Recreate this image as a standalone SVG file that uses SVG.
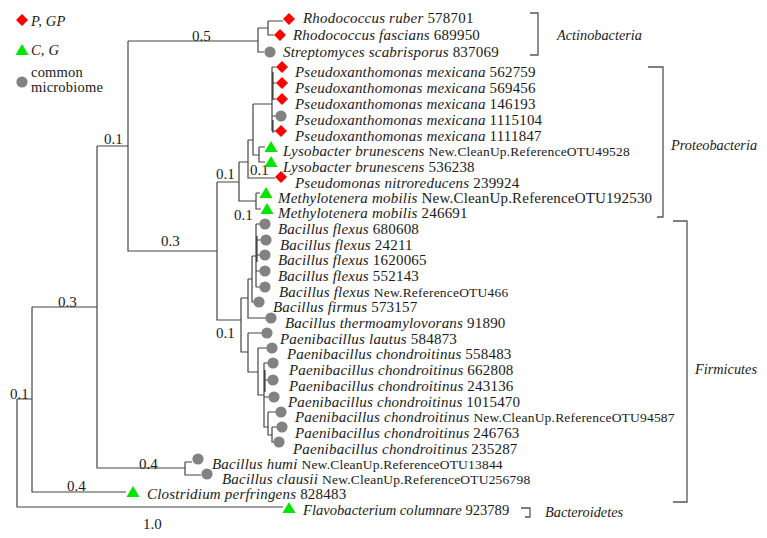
<svg xmlns="http://www.w3.org/2000/svg" xmlns:xlink="http://www.w3.org/1999/xlink" width="767" height="538" viewBox="0 0 767 538">
<defs>
<style>
.t{font-family:"Liberation Serif",serif;font-size:15px;letter-spacing:0.2px;fill:#1a1a1a}
.g{font-family:"Liberation Serif",serif;font-size:14.5px;letter-spacing:0.2px;fill:#1a1a1a}
.f{font-family:"Liberation Serif",serif;font-size:14.6px;fill:#1a1a1a}
.c{font-family:"Liberation Serif",serif;font-size:14.3px;font-style:italic;fill:#1a1a1a}
.i{font-style:italic}
.s{font-size:13.5px}
.b{font-family:"Liberation Serif",serif;font-size:15px;fill:#1a1a1a}
.ln{fill:none;stroke:#444;stroke-width:1.2}
.br{fill:none;stroke:#555;stroke-width:1.3}
</style>
<polygon id="dia" points="0,-6 6,0 0,6 -6,0" fill="#ff0000"/>
<polygon id="tri" points="0,-6 6.5,5 -6.5,5" fill="#00e600"/>
<circle id="cir" r="5.6" fill="#828282"/>
</defs>
<rect width="767" height="538" fill="#ffffff"/>

<g id="legend">
<use xlink:href="#dia" x="22" y="20"/>
<text class="g i" x="31" y="26">P, GP</text>
<use xlink:href="#tri" x="22" y="50"/>
<text class="g i" x="31" y="55">C, G</text>
<use xlink:href="#cir" x="22" y="82"/>
<text class="g" x="31" y="77">common</text>
<text class="g" x="31" y="92">microbiome</text>
</g>

<g id="connectors" class="ln">
<path d="M17,399V507H283M17,399H32"/>
<path d="M32,307V492H126M32,307H97"/>
<path d="M97,146V468H185M97,146H128"/>
<path d="M185,462V475H201M185,462H192"/>
<path d="M128,41V251H217M128,41H258"/>
<path d="M258,28V52H264M258,28H268"/>
<path d="M268,21V35H274M268,21H283"/>
<path d="M217,182V320H241M217,182H239"/>
<path d="M239,162V201H256M239,162H248"/>
<path d="M256,193V209H261M256,193H260"/>
<path d="M248,140V178H275M248,140H253"/>
<path d="M253,104V155H259M253,104H272"/>
<path d="M259,147V162H265M259,147H265"/>
<path d="M272,67V131M272,67H276M272,83H276M272,99H276M272,116H276M272,131H276M273,72V100M273,120V133"/>
<path d="M241,298V352H248M241,298H248"/>
<path d="M248,279V318H266M248,279H252"/>
<path d="M252,256V302H254M252,256H256"/>
<path d="M256,224V287M256,224H260M256,240H261M256,255H260M256,271H260M256,287H260M257,236V262"/>
<path d="M248,333V372H258M248,333H262"/>
<path d="M258,348V395H264M258,348H267"/>
<path d="M264,363V427H268M264,363H268M264,380H268M264,397H269M265,370V392"/>
<path d="M268,412V435H272M268,412H276"/>
<path d="M272,427V442H274M272,427H277"/>
</g>

<g id="branch-labels">
<text class="b" x="192" y="41">0.5</text>
<text class="b" x="104" y="144">0.1</text>
<text class="b" x="161" y="246">0.3</text>
<text class="b" x="58" y="307">0.3</text>
<text class="b" x="10" y="399">0.1</text>
<text class="b" x="139" y="469">0.4</text>
<text class="b" x="67" y="491">0.4</text>
<text class="b" x="143" y="529">1.0</text>
<text class="b" x="216" y="338">0.1</text>
<text class="b" x="234" y="220">0.1</text>
<text class="b" x="216" y="179">0.1</text>
<text class="b" x="250" y="175">0.1</text>
</g>

<g id="leaf-ruber"><use xlink:href="#dia" x="289" y="19"/><text class="t" x="303" y="23"><tspan class="i">Rhodococcus ruber</tspan> 578701</text></g>
<g id="leaf-fascians"><use xlink:href="#dia" x="280" y="35"/><text class="t" x="293" y="40"><tspan class="i">Rhodococcus fascians</tspan> 689950</text></g>
<g id="leaf-strepto"><use xlink:href="#cir" x="270" y="52"/><text class="t" x="283" y="57"><tspan class="i">Streptomyces scabrisporus</tspan> 837069</text></g>
<g id="leaf-pm1"><use xlink:href="#dia" x="282" y="67"/><text class="t" x="295" y="77"><tspan class="i">Pseudoxanthomonas mexicana</tspan> 562759</text></g>
<g id="leaf-pm2"><use xlink:href="#dia" x="282" y="83"/><text class="t" x="295" y="93"><tspan class="i">Pseudoxanthomonas mexicana</tspan> 569456</text></g>
<g id="leaf-pm3"><use xlink:href="#dia" x="282" y="99"/><text class="t" x="295" y="109"><tspan class="i">Pseudoxanthomonas mexicana</tspan> 146193</text></g>
<g id="leaf-pm4"><use xlink:href="#cir" x="281" y="116"/><text class="t" x="295" y="125"><tspan class="i">Pseudoxanthomonas mexicana</tspan> 1115104</text></g>
<g id="leaf-pm5"><use xlink:href="#dia" x="281" y="131"/><text class="t" x="295" y="141"><tspan class="i">Pseudoxanthomonas mexicana</tspan> 1111847</text></g>
<g id="leaf-lb1"><use xlink:href="#tri" x="271" y="147"/><text class="t" x="283" y="156"><tspan class="i">Lysobacter brunescens</tspan> <tspan class="s">New.CleanUp.ReferenceOTU49528</tspan></text></g>
<g id="leaf-lb2"><use xlink:href="#tri" x="271" y="162"/><text class="t" x="283" y="172"><tspan class="i">Lysobacter brunescens</tspan> 536238</text></g>
<g id="leaf-pn"><use xlink:href="#dia" x="281" y="177"/><text class="t" x="295" y="188"><tspan class="i">Pseudomonas nitroreducens</tspan> 239924</text></g>
<g id="leaf-mm1"><use xlink:href="#tri" x="266" y="193"/><text class="t" x="278" y="203"><tspan class="i">Methylotenera mobilis</tspan> New.CleanUp.ReferenceOTU192530</text></g>
<g id="leaf-mm2"><use xlink:href="#tri" x="267" y="209"/><text class="t" x="278" y="218"><tspan class="i">Methylotenera mobilis</tspan> 246691</text></g>
<g id="leaf-bf1"><use xlink:href="#cir" x="265" y="224"/><text class="t" x="278" y="234"><tspan class="i">Bacillus flexus</tspan> 680608</text></g>
<g id="leaf-bf2"><use xlink:href="#cir" x="266" y="240"/><text class="t" x="280" y="250"><tspan class="i">Bacillus flexus</tspan> 24211</text></g>
<g id="leaf-bf3"><use xlink:href="#cir" x="265" y="255"/><text class="t" x="278" y="265"><tspan class="i">Bacillus flexus</tspan> 1620065</text></g>
<g id="leaf-bf4"><use xlink:href="#cir" x="265" y="271"/><text class="t" x="278" y="281"><tspan class="i">Bacillus flexus</tspan> 552143</text></g>
<g id="leaf-bf5"><use xlink:href="#cir" x="265" y="287"/><text class="t" x="279" y="297"><tspan class="i">Bacillus flexus</tspan> <tspan class="s">New.ReferenceOTU466</tspan></text></g>
<g id="leaf-bfi"><use xlink:href="#cir" x="259" y="302"/><text class="t" x="273" y="312"><tspan class="i">Bacillus firmus</tspan> 573157</text></g>
<g id="leaf-bt"><use xlink:href="#cir" x="271" y="318"/><text class="t" x="285" y="328"><tspan class="i">Bacillus thermoamylovorans</tspan> 91890</text></g>
<g id="leaf-pl"><use xlink:href="#cir" x="267" y="333"/><text class="t" x="280" y="344"><tspan class="i">Paenibacillus lautus</tspan> 584873</text></g>
<g id="leaf-pc1"><use xlink:href="#cir" x="272" y="348"/><text class="t" x="287" y="359"><tspan class="i">Paenibacillus chondroitinus</tspan> 558483</text></g>
<g id="leaf-pc2"><use xlink:href="#cir" x="273" y="363"/><text class="t" x="289" y="375"><tspan class="i">Paenibacillus chondroitinus</tspan> 662808</text></g>
<g id="leaf-pc3"><use xlink:href="#cir" x="273" y="380"/><text class="t" x="289" y="391"><tspan class="i">Paenibacillus chondroitinus</tspan> 243136</text></g>
<g id="leaf-pc4"><use xlink:href="#cir" x="274" y="397"/><text class="t" x="288" y="407"><tspan class="i">Paenibacillus chondroitinus</tspan> 1015470</text></g>
<g id="leaf-pc5"><use xlink:href="#cir" x="281" y="412"/><text class="t" x="295" y="422"><tspan class="i">Paenibacillus chondroitinus</tspan> <tspan class="s">New.CleanUp.ReferenceOTU94587</tspan></text></g>
<g id="leaf-pc6"><use xlink:href="#cir" x="282" y="427"/><text class="t" x="295" y="438"><tspan class="i">Paenibacillus chondroitinus</tspan> 246763</text></g>
<g id="leaf-pc7"><use xlink:href="#cir" x="279" y="442"/><text class="t" x="293" y="454"><tspan class="i">Paenibacillus chondroitinus</tspan> 235287</text></g>
<g id="leaf-bh"><use xlink:href="#cir" x="198" y="459"/><text class="t" x="212" y="469"><tspan class="i">Bacillus humi</tspan> <tspan class="s">New.CleanUp.ReferenceOTU13844</tspan></text></g>
<g id="leaf-bc"><use xlink:href="#cir" x="207" y="474"/><text class="t" x="222" y="484"><tspan class="i">Bacillus clausii</tspan> <tspan class="s">New.CleanUp.ReferenceOTU256798</tspan></text></g>
<g id="leaf-cp"><use xlink:href="#tri" x="133" y="492"/><text class="t" x="147" y="499"><tspan class="i">Clostridium perfringens</tspan> 828483</text></g>
<g id="leaf-fc"><use xlink:href="#tri" x="289" y="508"/><text class="f" x="303" y="515"><tspan class="i">Flavobacterium columnare</tspan> 923789</text></g>

<g id="clade-brackets" class="br">
<path d="M530,13H538V55H530"/>
<path d="M648,67H663V217H657"/>
<path d="M673,221H687V502H673"/>
<path d="M521,508H530V517H525"/>
</g>
<g id="clade-labels">
<text class="c" x="557" y="40">Actinobacteria</text>
<text class="c" x="671" y="150">Proteobacteria</text>
<text class="c" x="695" y="374">Firmicutes</text>
<text class="c" x="545" y="517">Bacteroidetes</text>
</g>
</svg>
